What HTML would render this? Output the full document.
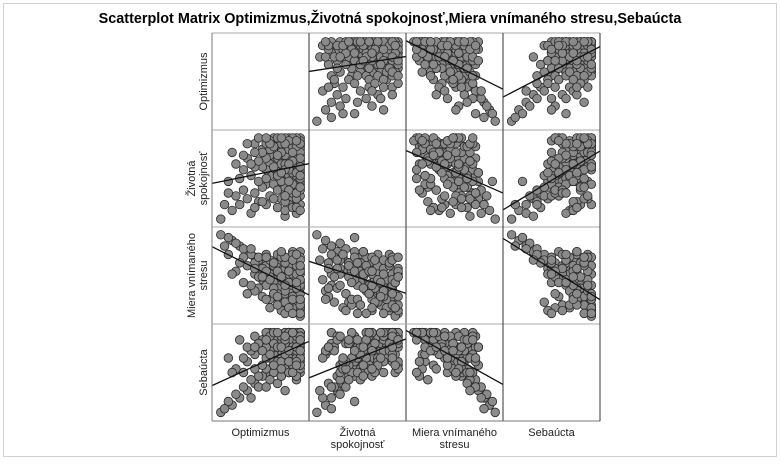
<!DOCTYPE html>
<html><head><meta charset="utf-8"><style>
body{margin:0;background:#fff;}
svg{display:block;font-family:"Liberation Sans",sans-serif;}
</style></head><body>
<svg id="c" width="781" height="464">
<rect x="3.5" y="3.5" width="773" height="453" fill="#fff" stroke="#d0d0d0"/>
<text x="390" y="23" text-anchor="middle" font-size="14.4" font-weight="bold" fill="#000">Scatterplot Matrix Optimizmus,Životná spokojnosť,Miera vnímaného stresu,Sebaúcta</text>
</svg>
<script>
const varNames=[["Optimizmus"],["Životná","spokojnosť"],["Miera vnímaného","stresu"],["Sebaúcta"]];
const rowLabels=[["Optimizmus"],["Životná","spokojnosť"],["Miera vnímaného","stresu"],["Sebaúcta"]];
const varMin=[2,6,4,17];
const varMax=[25,36,35,41];
const obs=[
[24,33,8,40],[23,30,10,38],[22,28,12,37],[24,35,6,40],[21,27,14,36],[20,25,15,35],[23,31,9,39],[22,29,11,38],[24,32,7,40],[19,24,16,34],
[21,30,13,37],[20,22,18,33],[18,26,17,35],[22,34,10,39],[23,27,12,36],[24,29,9,38],[17,23,19,32],[19,28,15,36],[21,25,16,35],[20,31,12,38],
[22,24,14,34],[18,20,20,31],[16,22,21,30],[23,33,8,40],[24,26,11,37],[21,33,10,39],[20,27,17,36],[19,21,18,33],[22,31,13,38],[17,27,18,34],
[15,19,22,29],[18,30,16,37],[24,34,5,40],[23,25,13,35],[20,20,19,32],[21,22,17,34],[19,32,14,38],[16,26,20,33],[22,26,15,36],[23,35,7,39],
[14,18,24,28],[20,34,11,40],[18,24,21,32],[21,28,14,37],[24,31,8,39],[17,30,17,36],[15,24,23,30],[22,21,16,33],[19,18,20,31],[23,28,10,38],
[12,16,26,26],[13,20,25,28],[16,29,19,35],[20,29,13,37],[24,27,10,38],[21,35,9,40],[18,33,15,38],[14,25,22,31],[22,33,12,39],[17,19,23,29],
[10,14,28,24],[11,22,27,27],[8,12,30,22],[9,17,29,25],[6,10,32,20],[12,25,24,30],[15,28,21,33],[7,15,31,23],[13,13,26,25],[19,14,22,28],
[23,20,18,34],[24,23,15,35],[20,16,21,30],[5,20,33,21],[11,9,29,22],[16,15,25,27],[22,18,19,31],[18,11,24,26],[24,19,17,33],[21,15,22,29],
[14,31,18,36],[10,28,23,32],[3,7,34,18],[4,12,30,19],[12,33,20,34],[9,24,26,29],[17,34,13,39],[15,12,27,25],[20,8,25,24],[24,15,20,31],
[22,14,25,38],[24,20,28,36],[20,35,22,30],[23,18,10,27],[19,33,9,32],[21,12,20,40],[24,24,26,33],[18,28,27,39],[22,16,8,30],[20,10,14,34],
[23,22,24,29],[17,35,12,31],[24,12,16,37],[21,31,24,33],[19,26,7,28],[22,35,20,32],[16,31,11,40],[23,14,22,39],[20,26,26,40],[24,21,6,29],
[18,17,13,37],[22,23,28,31],[21,19,9,38],[15,33,16,40],[24,30,22,32],[23,9,18,33],[19,30,25,35],[20,13,10,36],[22,32,27,36],[17,14,15,38],
[24,17,13,30],[21,24,23,40],[16,34,8,34],[23,23,20,28],[20,18,24,37],[24,28,18,31],[18,35,21,36],[22,11,12,35],[19,20,26,39],[21,34,17,29],
[14,30,12,38],[24,22,9,34],[13,27,15,37],[23,32,23,35],[20,33,26,34],[22,19,11,40],[17,32,24,37],[24,25,21,39],[21,17,7,32],[19,35,19,30],
[15,21,11,36],[23,11,15,36],[12,30,14,39],[24,33,25,33],[18,22,9,36],[22,27,25,29],[20,24,6,38],[16,33,18,39],[23,16,27,32],[21,26,8,40],
[11,26,16,35],[24,18,23,38],[19,23,28,36],[22,30,6,40],[17,25,13,40],[23,34,17,31],[20,15,16,39],[24,10,11,35],[18,29,12,40],[21,20,21,35],
[9,29,17,33],[13,35,19,37],[7,26,21,30],[10,33,13,36],[14,13,19,35],[8,21,24,38],[12,11,22,36],[6,30,20,29],[5,16,27,33],[15,35,26,38]
];
const svg=document.getElementById('c');
const NS='http://www.w3.org/2000/svg';
const L=212,T=33,S=97,P=5;
function mk(t,a,parent){const e=document.createElementNS(NS,t);for(const k in a)e.setAttribute(k,a[k]);(parent||svg).appendChild(e);return e;}
function xPos(v,i,col){return L+col*S+P+(v-varMin[i])/(varMax[i]-varMin[i])*(S-2*P);}
function yPos(v,i,row){return T+row*S+S-P-(v-varMin[i])/(varMax[i]-varMin[i])*(S-2*P);}
const defs=mk('defs',{});
for(let r=0;r<4;r++)for(let c=0;c<4;c++){
  if(r===c)continue;
  const cp=mk('clipPath',{id:'cp'+r+c},defs);
  mk('rect',{x:L+c*S,y:T+r*S,width:S,height:S},cp);
  const g=mk('g',{'clip-path':'url(#cp'+r+c+')'});
  
  
  obs.forEach(o=>{
    const e=document.createElementNS(NS,'circle');
    e.setAttribute('cx',xPos(o[c],c,c));e.setAttribute('cy',yPos(o[r],r,r));e.setAttribute('r',4.3);
    e.setAttribute('fill','#8a8a8a');e.setAttribute('stroke','#2a2a2a');e.setAttribute('stroke-width','0.8');
    
    
    g.appendChild(e);
  });
  let n=obs.length,mx=0,my=0;obs.forEach(o=>{mx+=o[c];my+=o[r];});mx/=n;my/=n;
  let sxy=0,sxx=0;obs.forEach(o=>{sxy+=(o[c]-mx)*(o[r]-my);sxx+=(o[c]-mx)**2;});
  const b=sxy/sxx,a=my-b*mx;
  const x0=L+c*S,x1=x0+S;
  const v0=varMin[c]-P/(S-2*P)*(varMax[c]-varMin[c]),v1=varMax[c]+P/(S-2*P)*(varMax[c]-varMin[c]);
  const y0=yPos(a+b*v0,r,r),y1=yPos(a+b*v1,r,r);
  const ln=mk('line',{x1:x0,y1:y0,x2:x1,y2:y1,stroke:'#111','stroke-width':1.3},g);
  
  
}
for(let i=0;i<=4;i++){
  const h=mk('line',{x1:L,y1:T+i*S,x2:L+4*S,y2:T+i*S,stroke:i===4?'#777':'#aaa','stroke-width':1});
  
  
  const v=mk('line',{x1:L+i*S,y1:T,x2:L+i*S,y2:T+4*S,stroke:i===0?'#777':'#333','stroke-width':1});
  
  
}
varNames.forEach((nm,i)=>{
  nm.forEach((s,j)=>{
    const t=mk('text',{x:L+i*S+S/2,y:436+j*12,'text-anchor':'middle','font-size':11,fill:'#222'});
    t.textContent=s;
    
    
  });
});
rowLabels.forEach((nm,i)=>{
  const cy=T+i*S+S/2,k=nm.length;
  nm.forEach((s,j)=>{
    const x=207-(k-1-j)*12;
    const t=mk('text',{x:x,y:cy,'text-anchor':'middle','font-size':11,fill:'#222',transform:'rotate(-90 '+x+' '+cy+')'});
    t.textContent=s;
    
    
  });
});
</script>
</body></html>
